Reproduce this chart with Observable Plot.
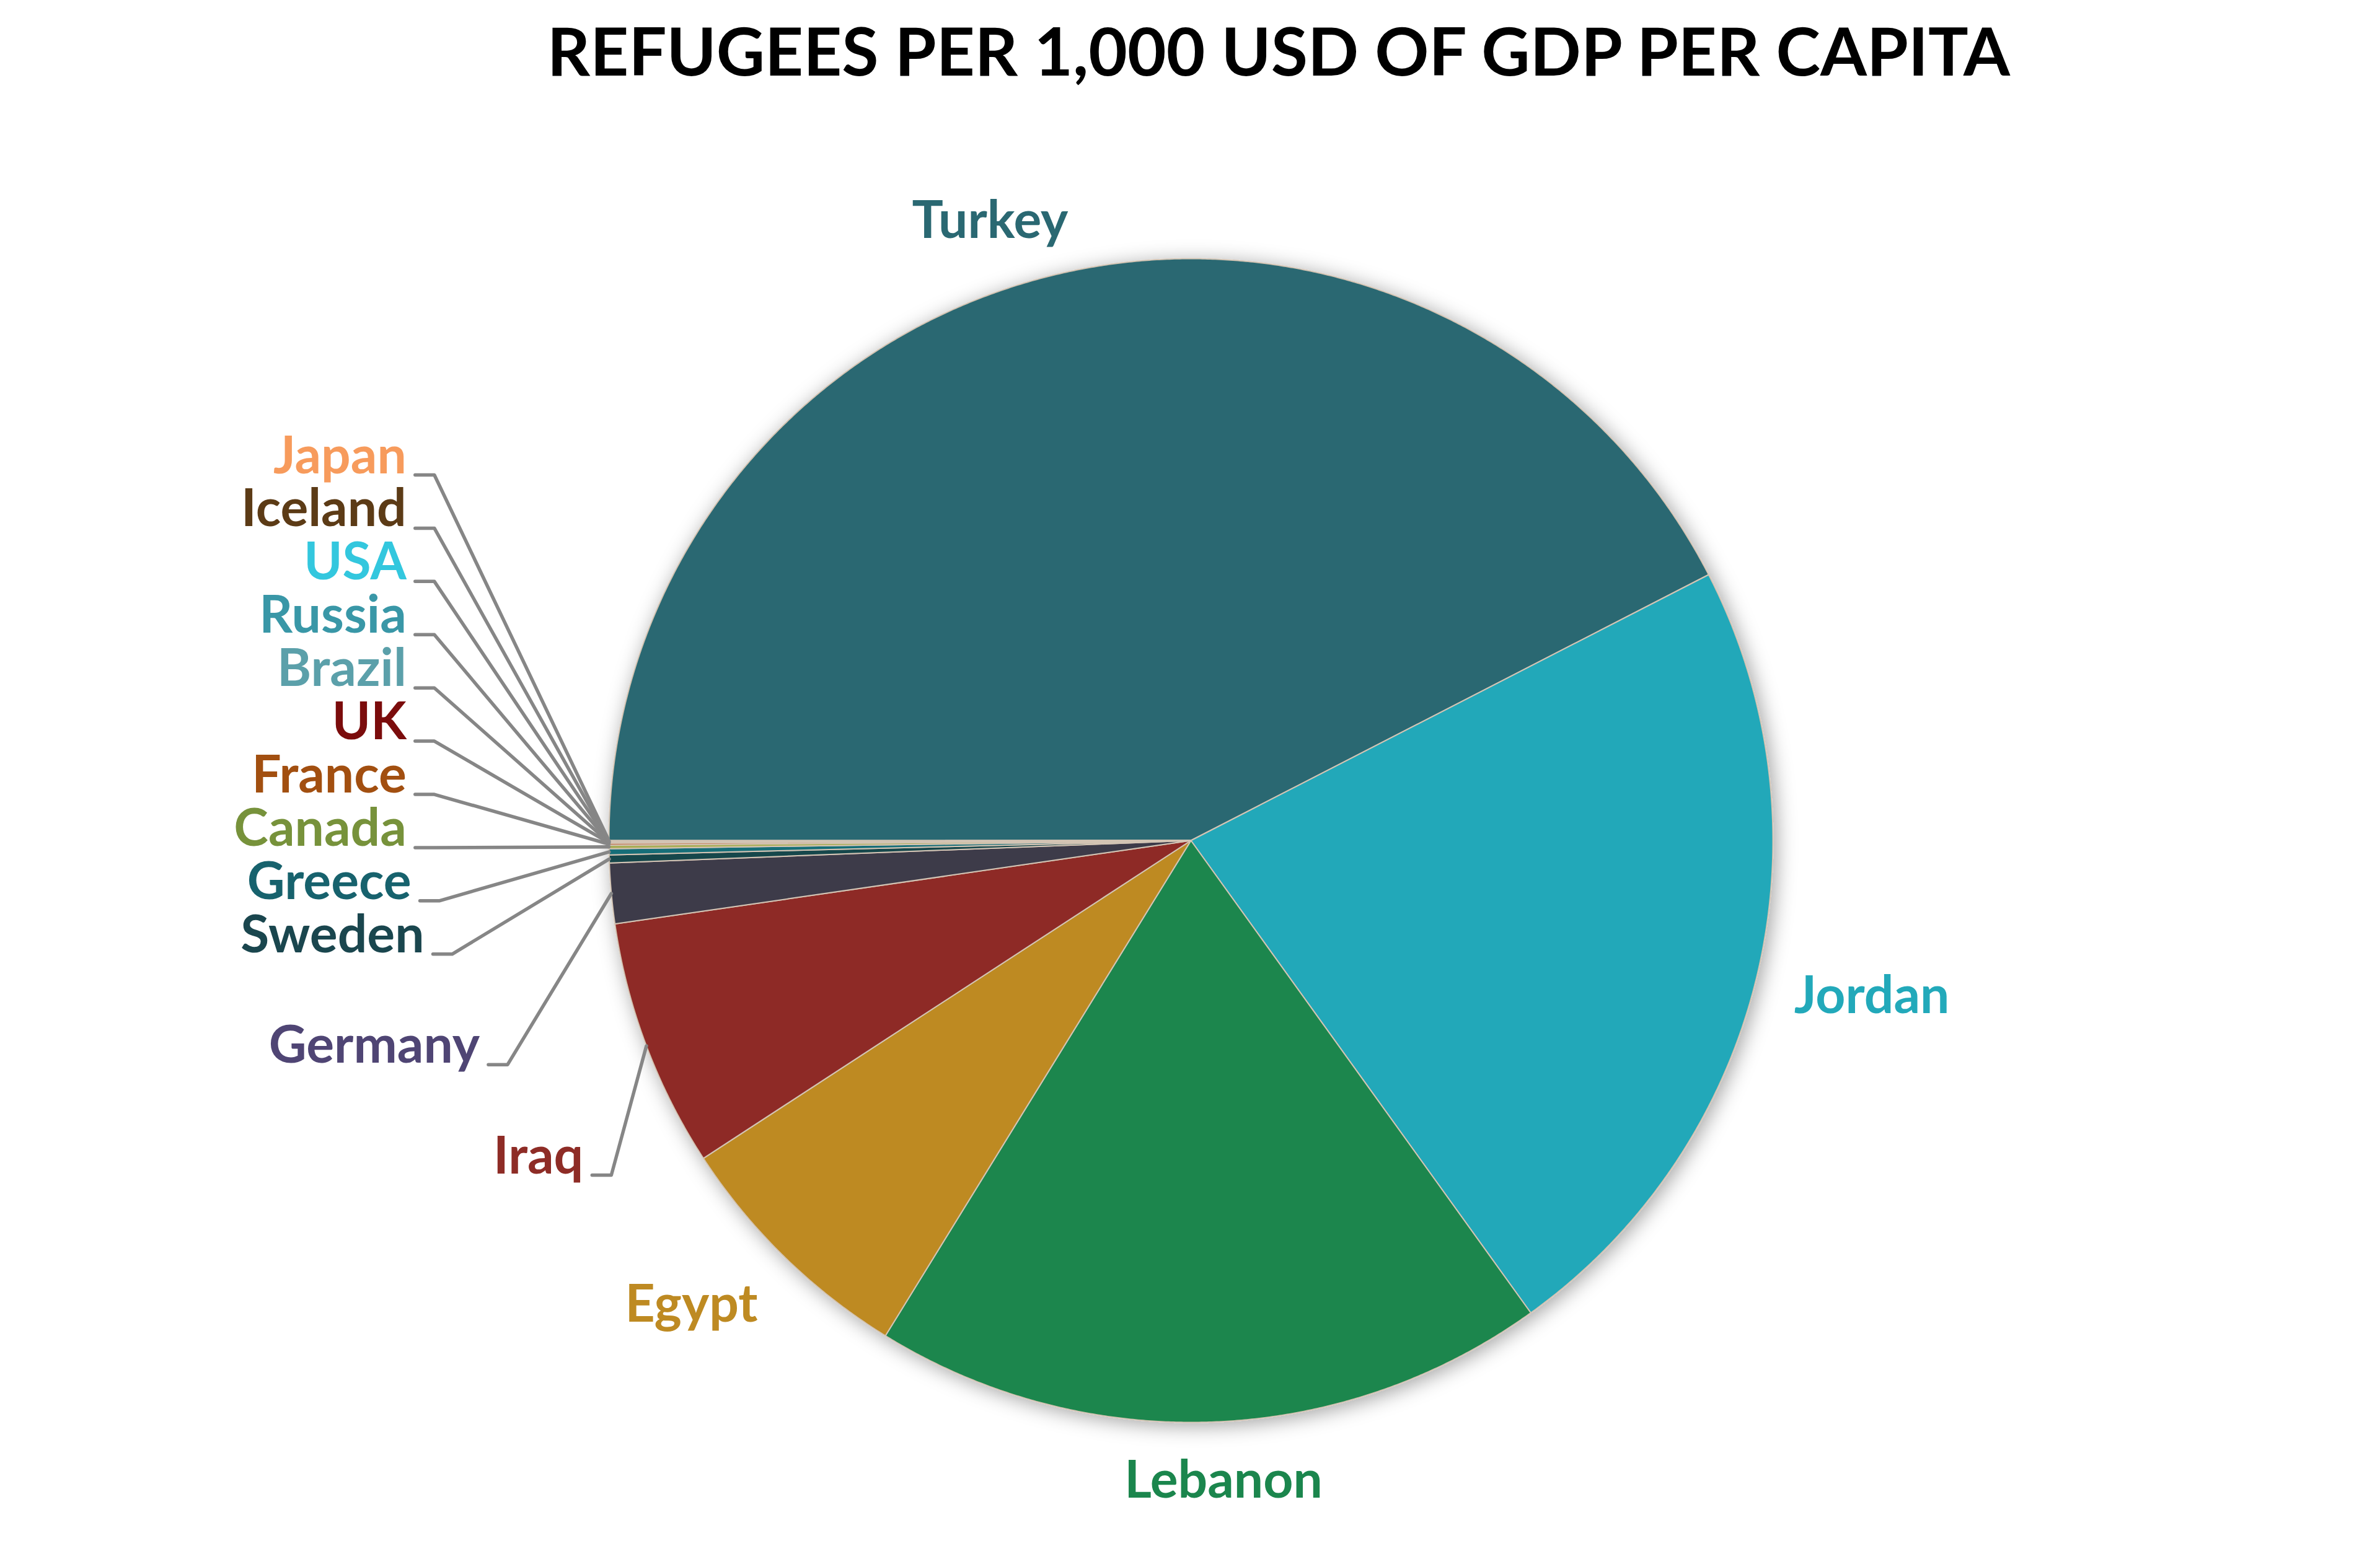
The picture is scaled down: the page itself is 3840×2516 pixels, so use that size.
<!DOCTYPE html>
<html>
<head>
<meta charset="utf-8">
<script src="https://cdn.jsdelivr.net/npm/d3@7"></script>
<script src="https://cdn.jsdelivr.net/npm/@observablehq/plot@0.6"></script>
<style>
  html, body { margin: 0; padding: 0; background: #ffffff; }
  #title {
    width: 3840px; height: 180px; box-sizing: border-box;
    padding-top: 26px; padding-left: 286px;
    text-align: center; white-space: nowrap;
    font-family: Lato, "Open Sans", sans-serif; font-weight: 700;
    font-size: 108px; line-height: 1; color: #000000;
  }
</style>
</head>
<body>
<div id="title"></div>
<div id="chart"></div>
<script>
// ---- data ----
const chartTitle = "REFUGEES PER 1,000 USD OF GDP PER CAPITA";
const countries = ["Turkey", "Jordan", "Lebanon", "Egypt", "Iraq", "Germany", "Sweden", "Greece",
                   "Canada", "France", "UK", "Brazil", "Russia", "USA", "Iceland", "Japan"];
const values = [424, 226, 187, 70, 69, 16.7, 2.2, 1.7, 1.0, 0.55, 0.14, 0.12, 0.12, 0.12, 0.1, 0.1];
const sliceColors = ["#2a6872", "#20a8b9", "#1b864d", "#be8a22", "#8e2c26", "#3e3a4a", "#16464c", "#176e78",
                     "#a9ad55", "#c0663a", "#7b0c0c", "#5ba0aa", "#3997a7", "#33c7de", "#5c3b16", "#f79b5c"];
const labelColors = ["#2a6872", "#22a9ba", "#1b864d", "#be8a22", "#8e2c26", "#4f4574", "#1a464e", "#17626d",
                     "#77923b", "#a24f10", "#7b0c0c", "#5ba0aa", "#3997a7", "#33c7de", "#5c3b16", "#f79b5c"];

document.getElementById("title").textContent = chartTitle;

// ---- layout constants ----
const W = 3840, H = 2336;            // svg size
const R = 939, CX = 1921, CY = 1176; // pie radius and centre (px)
const FS = 84;                       // label font size
const ux = px => (px - CX) / R;
const uy = py => (CY - py) / R;

const rows = countries.map((c, i) => ({country: c, value: values[i], color: sliceColors[i], labelColor: labelColors[i]}));
const arcs = d3.pie().sort(null).value(d => d.value).startAngle(-Math.PI / 2).endAngle(1.5 * Math.PI)(rows);

// slice polygons in pie units (radius 1, y up)
const slicePts = [];
arcs.forEach(a => {
  const d = a.data;
  slicePts.push({country: d.country, color: d.color, x: 0, y: 0});
  const n = Math.max(2, Math.ceil((a.endAngle - a.startAngle) / (Math.PI / 720)));
  for (let k = 0; k <= n; k++) {
    const t = a.startAngle + (a.endAngle - a.startAngle) * k / n;
    slicePts.push({country: d.country, color: d.color, x: Math.sin(t), y: Math.cos(t)});
  }
});

// text measuring
const ctx = document.createElement("canvas").getContext("2d");
ctx.font = `bold ${FS}px Lato`;
const capH = 0.7165 * FS;
const clamp = v => Math.max(-1, Math.min(1, v));

// outside-end labels for the four largest slices
const GAP = 62;
const outside = arcs.slice(0, 4).map(a => {
  const m = (a.startAngle + a.endAngle) / 2, sx = Math.sin(m), sy = -Math.cos(m);
  const w = ctx.measureText(a.data.country).width;
  const px = CX + (R + GAP) * sx + w / 2 * clamp(3 * sx);
  const pc = CY + (R + GAP) * sy + capH / 2 * clamp(2 * sy);
  return {text: a.data.country, color: a.data.labelColor, x: ux(px), y: uy(pc + capH / 2)};
});

// leader-line labels for the remaining slices, stacked upward from Iraq
const leaderLabels = [], leaderPts = [];
let ly = CY + 0.572 * R;
const rest = arcs.slice(4);
rest.forEach((a, i) => {
  if (i > 0) {
    const p = rest[i - 1];
    ly -= ((p.endAngle - p.startAngle) > 3 * Math.PI / 180 ? 0.19 : 0.0915) * R;
  }
  const m = (a.startAngle + a.endAngle) / 2;
  const dyU = (ly - CY) / R;
  const ex = CX - R * 1.30 * Math.sqrt(Math.max(0, 1 - (Math.max(0, dyU) / 0.89) ** 2));
  const c = a.data.country;
  leaderPts.push({country: c, x: ux(ex - 31), y: uy(ly + 3)});
  leaderPts.push({country: c, x: ux(ex), y: uy(ly + 3)});
  leaderPts.push({country: c, x: Math.sin(m), y: Math.cos(m)});
  leaderLabels.push({text: c, color: a.data.labelColor, x: ux(ex - 45), y: uy(ly)});
});

const plot = Plot.plot({
  width: W, height: H, margin: 0,
  x: {domain: [-CX / R, (W - CX) / R], axis: null},
  y: {domain: [-(H - CY) / R, CY / R], axis: null},
  color: {type: "identity"},
  style: {fontFamily: "Lato, 'Open Sans', sans-serif", background: "white"},
  marks: [
    Plot.line(slicePts, {x: "x", y: "y", z: "country", fill: "color", stroke: "#d3c4b4", strokeWidth: 2, curve: "linear-closed"}),
    Plot.line(leaderPts, {x: "x", y: "y", z: "country", stroke: "#868686", strokeWidth: 5.5}),
    Plot.text(outside, {x: "x", y: "y", text: "text", fill: "color", fontSize: FS, fontWeight: "bold", lineAnchor: "bottom", textAnchor: "middle"}),
    Plot.text(leaderLabels, {x: "x", y: "y", text: "text", fill: "color", fontSize: FS, fontWeight: "bold", lineAnchor: "bottom", textAnchor: "end"})
  ]
});

// soft shadow around the pie
const ns = "http://www.w3.org/2000/svg";
const defs = document.createElementNS(ns, "defs");
defs.innerHTML = '<filter id="pieShadow" x="-10%" y="-10%" width="120%" height="120%"><feDropShadow dx="5" dy="5" stdDeviation="16" flood-color="#000" flood-opacity="0.36"/></filter>';
plot.insertBefore(defs, plot.firstChild);
const sliceGroup = plot.querySelector('g[aria-label="line"]');
if (sliceGroup) sliceGroup.setAttribute("filter", "url(#pieShadow)");

document.getElementById("chart").appendChild(plot);
</script>
</body>
</html>
